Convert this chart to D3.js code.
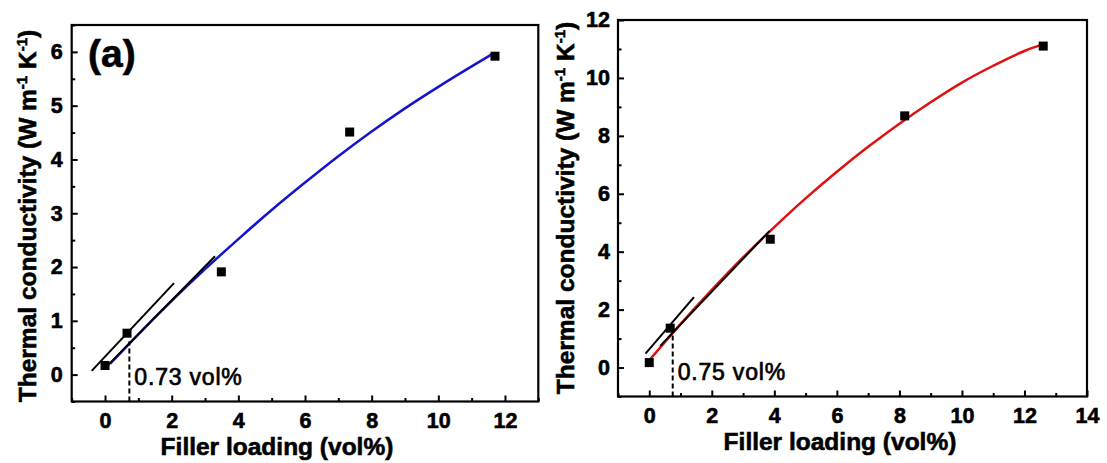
<!DOCTYPE html>
<html>
<head>
<meta charset="utf-8">
<script src="https://cdn.jsdelivr.net/npm/d3@7"></script>
<style>
  body { margin: 0; background: #fff; }
  text { font-family: "Liberation Sans", Arial, sans-serif; }
  text.heavy { stroke: #000; stroke-width: 0.6px; }
</style>
</head>
<body>
<div id="chart"></div>
<script>

// panel (a): filler loading (vol%) vs thermal conductivity
const loadA = [0, 0.66, 3.49, 7.34, 11.7];
const kA = [0.17, 0.77, 1.91, 4.51, 5.92];
// blue fitted curve
const fitAx = [0.15, 1, 2, 3, 4, 5, 6, 7, 8, 9, 10, 11, 11.65];
const fitAy = [0.2, 0.75, 1.37, 1.96, 2.52, 3.06, 3.57, 4.06, 4.52, 4.95, 5.35, 5.73, 5.97];
// black tangent segments [x1, y1, x2, y2]
const tangentsA = [[-0.4, 0.07, 2.07, 1.7], [0.0, 0.12, 3.3, 2.2]];
const thresholdA = 0.73;
const thresholdTopA = 0.62;

// right panel
const loadB = [0, 0.67, 3.87, 8.17, 12.6];
const kB = [0.17, 1.36, 4.43, 8.69, 11.1];
// red fitted curve
const fitBx = [0, 1, 2, 3, 4, 5, 6, 7, 8, 9, 10, 11, 12, 12.55];
const fitBy = [0.25, 1.5, 2.68, 3.8, 4.85, 5.84, 6.76, 7.62, 8.42, 9.16, 9.84, 10.42, 10.93, 11.15];
const tangentsB = [[-0.12, 0.48, 1.43, 2.43], [0.35, 0.75, 3.85, 4.72]];
const thresholdB = 0.75;
const thresholdTopB = 1.13;

// tick values
const xTicksA = [0, 2, 4, 6, 8, 10, 12];
const xMinorA = [-1, 1, 3, 5, 7, 9, 11, 13];
const yTicksA = [0, 1, 2, 3, 4, 5, 6];
const yMinorA = [-0.5, 0.5, 1.5, 2.5, 3.5, 4.5, 5.5, 6.5];
const xTicksB = [0, 2, 4, 6, 8, 10, 12, 14];
const xMinorB = [-1, 1, 3, 5, 7, 9, 11, 13];
const yTicksB = [0, 2, 4, 6, 8, 10, 12];
const yMinorB = [-1, 1, 3, 5, 7, 9, 11];

const width = 1107;
const height = 463;

const svg = d3.select("#chart")
    .append("svg")
    .attr("width", width)
    .attr("height", height);

svg.append("rect")
    .attr("width", width)
    .attr("height", height)
    .attr("fill", "#fff");

function drawPanel(p) {
    const x = d3.scaleLinear().domain(p.xDomain).range(p.xRange);
    const y = d3.scaleLinear().domain(p.yDomain).range(p.yRange);
    const g = svg.append("g");
    const bottom = p.yRange[0];
    const left = p.xRange[0];

    // minor ticks (inward, no labels)
    g.append("g")
        .attr("transform", `translate(0,${bottom})`)
        .call(d3.axisBottom(x).tickValues(p.xMinor).tickSize(-3.5).tickFormat(""))
        .call(a => a.select(".domain").remove());
    g.append("g")
        .attr("transform", `translate(${left},0)`)
        .call(d3.axisLeft(y).tickValues(p.yMinor).tickSize(-3.5).tickFormat(""))
        .call(a => a.select(".domain").remove());

    // major ticks
    g.append("g")
        .attr("transform", `translate(0,${bottom})`)
        .call(d3.axisBottom(x).tickValues(p.xTicks).tickFormat(d => d)
            .tickSizeInner(-6).tickSizeOuter(0).tickPadding(11))
        .call(a => a.select(".domain").remove());
    g.append("g")
        .attr("transform", `translate(${left},0)`)
        .call(d3.axisLeft(y).tickValues(p.yTicks).tickFormat(d => d)
            .tickSizeInner(-6).tickSizeOuter(0).tickPadding(p.yPad))
        .call(a => a.select(".domain").remove());

    g.selectAll(".tick line").attr("stroke", "#000").attr("stroke-width", 2);
    g.selectAll(".tick text")
        .attr("class", "heavy")
        .attr("fill", "#000")
        .style("font-family", "'Liberation Sans', Arial, sans-serif")
        .style("font-size", "21.5px")
        .style("font-weight", "bold");

    // plot frame
    g.append("rect")
        .attr("x", p.xRange[0])
        .attr("y", p.yRange[1])
        .attr("width", p.xRange[1] - p.xRange[0])
        .attr("height", p.yRange[0] - p.yRange[1])
        .attr("fill", "none")
        .attr("stroke", "#000")
        .attr("stroke-width", 2.2);

    // fitted curve
    const line = d3.line()
        .x(d => x(d[0]))
        .y(d => y(d[1]))
        .curve(d3.curveMonotoneX);
    g.append("path")
        .datum(d3.zip(p.fitX, p.fitY))
        .attr("fill", "none")
        .attr("stroke", p.color)
        .attr("stroke-width", 2.5)
        .attr("d", line);

    // tangent lines
    g.selectAll("line.tangent")
        .data(p.tangents)
        .enter()
        .append("line")
        .attr("class", "tangent")
        .attr("x1", d => x(d[0]))
        .attr("y1", d => y(d[1]))
        .attr("x2", d => x(d[2]))
        .attr("y2", d => y(d[3]))
        .attr("stroke", "#000")
        .attr("stroke-width", 2);

    // threshold marker
    g.append("line")
        .attr("x1", x(p.threshold))
        .attr("x2", x(p.threshold))
        .attr("y1", y(p.yDomain[0]))
        .attr("y2", y(p.thresholdTop))
        .attr("stroke", "#000")
        .attr("stroke-width", 2)
        .attr("stroke-dasharray", "5,3");

    g.append("text")
        .attr("x", x(p.threshold) + 5)
        .attr("y", bottom - 16.5)
        .attr("font-size", 23)
        .attr("letter-spacing", "0.8px")
        .attr("stroke", "#000")
        .attr("stroke-width", 0.7)
        .text(`${p.threshold} vol%`);

    // data points
    g.selectAll("rect.pt")
        .data(d3.zip(p.xs, p.ys))
        .enter()
        .append("rect")
        .attr("class", "pt")
        .attr("x", d => x(d[0]) - 4.5)
        .attr("y", d => y(d[1]) - 4.5)
        .attr("width", 9)
        .attr("height", 9)
        .attr("fill", "#000");

    // axis titles
    g.append("text")
        .attr("class", "heavy")
        .attr("x", p.xTitleX)
        .attr("y", p.xTitleY)
        .attr("text-anchor", "middle")
        .attr("font-size", 24.5)
        .attr("font-weight", "bold")
        .text("Filler loading (vol%)");

    const yt = g.append("text")
        .attr("class", "heavy")
        .attr("transform", `translate(${p.yTitleX},${p.yTitleY}) rotate(-90)`)
        .attr("text-anchor", "middle")
        .attr("font-size", 24.5)
        .attr("font-weight", "bold");
    yt.append("tspan").text("Thermal conductivity (W m");
    yt.append("tspan").attr("dy", -9).attr("font-size", 15).text("-1");
    yt.append("tspan").attr("dy", 9).text(" K");
    yt.append("tspan").attr("dy", -9).attr("font-size", 15).text("-1");
    yt.append("tspan").attr("dy", 9).text(")");

    if (p.label) {
        g.append("text")
            .attr("class", "heavy")
            .attr("x", p.labelX)
            .attr("y", p.labelY)
            .attr("font-size", 39)
            .attr("font-weight", "bold")
            .text(p.label);
    }
}

drawPanel({
    xDomain: [-1, 13], xRange: [71.7, 538.3],
    yDomain: [-0.5, 6.5], yRange: [401.5, 25],
    xTicks: xTicksA, xMinor: xMinorA, yTicks: yTicksA, yMinor: yMinorA,
    yPad: 9,
    xs: loadA, ys: kA, fitX: fitAx, fitY: fitAy,
    tangents: tangentsA, threshold: thresholdA, thresholdTop: thresholdTopA,
    color: "#1414cc",
    xTitleX: 277, xTitleY: 455,
    yTitleX: 36, yTitleY: 216,
    label: "(a)", labelX: 88, labelY: 67
});

drawPanel({
    xDomain: [-1, 14], xRange: [618, 1087],
    yDomain: [-1, 12], yRange: [396.5, 20],
    xTicks: xTicksB, xMinor: xMinorB, yTicks: yTicksB, yMinor: yMinorB,
    yPad: 8,
    xs: loadB, ys: kB, fitX: fitBx, fitY: fitBy,
    tangents: tangentsB, threshold: thresholdB, thresholdTop: thresholdTopB,
    color: "#dd1111",
    xTitleX: 840, xTitleY: 450,
    yTitleX: 573.5, yTitleY: 208
});
</script>
</body>
</html>
